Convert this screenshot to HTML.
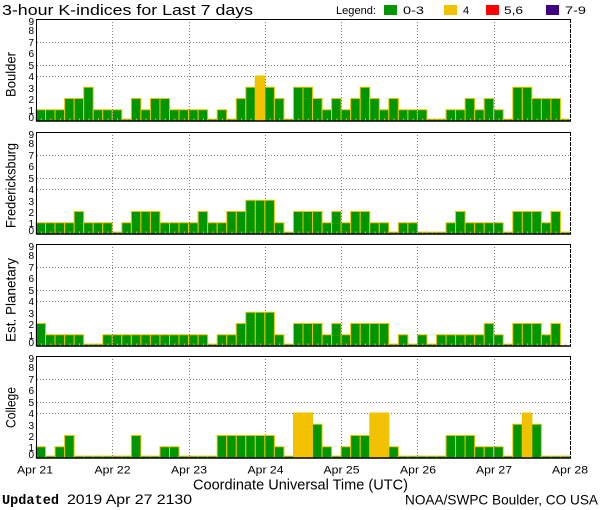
<!DOCTYPE html>
<html><head><meta charset="utf-8"><style>
html,body{margin:0;padding:0;background:#fff;}
svg{display:block;}
text{font-family:"Liberation Sans",sans-serif;fill:#000;}
.b rect{fill:#009600;stroke:#f2c200;stroke-width:1;vector-effect:non-scaling-stroke;}
.b rect.y{fill:#f2c200;}
.gr{stroke:#808080;stroke-width:1;stroke-dasharray:1 2;fill:none;}
.ax{stroke:#000;fill:none;}
.tk{font-size:10px;text-anchor:end;}
.yl{font-size:14px;text-anchor:middle;}
.xl{font-size:11px;text-anchor:middle;}
.lg{font-size:11px;}
.mt{stroke:#f2c200;stroke-width:2;stroke-dasharray:1 8.5357;}
</style></head><body>
<svg width="600" height="510" viewBox="0 0 600 510" xmlns="http://www.w3.org/2000/svg">
<rect width="600" height="510" fill="#fff"/>

<!-- Title & legend -->
<text x="2" y="15" font-size="15" textLength="251" lengthAdjust="spacingAndGlyphs">3-hour K-indices for Last 7 days</text>
<text class="lg" x="336" y="14" textLength="40" lengthAdjust="spacingAndGlyphs">Legend:</text>
<rect x="384" y="5" width="13" height="10" fill="#009600"/>
<text class="lg" x="403" y="14" textLength="21" lengthAdjust="spacingAndGlyphs">0-3</text>
<rect x="444" y="5" width="13" height="10" fill="#f2c200"/>
<text class="lg" x="463" y="14">4</text>
<rect x="486" y="5" width="13" height="10" fill="#ff0000"/>
<text class="lg" x="504" y="14" textLength="19" lengthAdjust="spacingAndGlyphs">5,6</text>
<rect x="546" y="5" width="13" height="10" fill="#400080"/>
<text class="lg" x="565" y="14" textLength="21" lengthAdjust="spacingAndGlyphs">7-9</text>

<!-- ============ Panel 1 : Boulder (T=19, base=121) ============ -->
<g class="gr">
<path d="M37 42.5H570M37 65.5H570M37 76.5H570"/>
<path d="M112.5 19V121M189.5 19V121M265.5 19V121M341.5 19V121M417.5 19V121M494.5 19V121"/>
</g>
<g class="b" transform="translate(36,121) scale(9.5357,-11.25)">
<rect x="0" width="1" height="1"/><rect x="1" width="1" height="1"/><rect x="2" width="1" height="1"/><rect x="3" width="1" height="2"/><rect x="4" width="1" height="2"/><rect x="5" width="1" height="3"/><rect x="6" width="1" height="1"/><rect x="7" width="1" height="1"/>
<rect x="8" width="1" height="1"/><rect x="9" width="1" height=".17"/><rect x="10" width="1" height="2"/><rect x="11" width="1" height="1"/><rect x="12" width="1" height="2"/><rect x="13" width="1" height="2"/><rect x="14" width="1" height="1"/><rect x="15" width="1" height="1"/>
<rect x="16" width="1" height="1"/><rect x="17" width="1" height="1"/><rect x="18" width="1" height=".17"/><rect x="19" width="1" height="1"/><rect x="20" width="1" height=".17"/><rect x="21" width="1" height="2"/><rect x="22" width="1" height="3"/><rect class="y" x="23" width="1" height="4"/>
<rect x="24" width="1" height="3"/><rect x="25" width="1" height="2"/><rect x="26" width="1" height=".17"/><rect x="27" width="1" height="3"/><rect x="28" width="1" height="3"/><rect x="29" width="1" height="2"/><rect x="30" width="1" height="1"/><rect x="31" width="1" height="2"/>
<rect x="32" width="1" height="1"/><rect x="33" width="1" height="2"/><rect x="34" width="1" height="3"/><rect x="35" width="1" height="2"/><rect x="36" width="1" height="1"/><rect x="37" width="1" height="2"/><rect x="38" width="1" height="1"/><rect x="39" width="1" height="1"/>
<rect x="40" width="1" height="1"/><rect x="41" width="1" height=".17"/><rect x="42" width="1" height=".17"/><rect x="43" width="1" height="1"/><rect x="44" width="1" height="1"/><rect x="45" width="1" height="2"/><rect x="46" width="1" height="1"/><rect x="47" width="1" height="2"/>
<rect x="48" width="1" height="1"/><rect x="49" width="1" height=".17"/><rect x="50" width="1" height="3"/><rect x="51" width="1" height="3"/><rect x="52" width="1" height="2"/><rect x="53" width="1" height="2"/><rect x="54" width="1" height="2"/><rect x="55" width="1" height=".17"/>
</g>
<g class="gr"><path d="M112.5 19V121M189.5 19V121M265.5 19V121M341.5 19V121M417.5 19V121M494.5 19V121"/></g>
<line class="mt" x1="40.8" y1="119.5" x2="570" y2="119.5"/>
<path class="ax" d="M36 19.5H570M36.5 19V121.5" stroke-width="1"/>
<path class="ax" d="M36 121H571" stroke-width="1.5"/>
<path class="ax" d="M570.5 19V121" stroke-dasharray="4 1"/>
<g class="tk">
<text x="34" y="25">9</text><text x="34" y="34">8</text><text x="34" y="46">7</text><text x="34" y="57">6</text><text x="34" y="69">5</text><text x="34" y="80">4</text><text x="34" y="92">3</text><text x="34" y="103">2</text><text x="34" y="114">1</text><text x="34" y="121">0</text>
</g>
<text class="yl" transform="translate(15.5,74.5) rotate(-90)" textLength="45" lengthAdjust="spacingAndGlyphs">Boulder</text>

<!-- ============ Panel 2 : Fredericksburg (T=132, base=234) ============ -->
<g class="gr">
<path d="M37 155.5H570M37 178.5H570M37 189.5H570"/>
</g>
<g class="b" transform="translate(36,234) scale(9.5357,-11.25)">
<rect x="0" width="1" height="1"/><rect x="1" width="1" height="1"/><rect x="2" width="1" height="1"/><rect x="3" width="1" height="1"/><rect x="4" width="1" height="2"/><rect x="5" width="1" height="1"/><rect x="6" width="1" height="1"/><rect x="7" width="1" height="1"/>
<rect x="8" width="1" height=".17"/><rect x="9" width="1" height="1"/><rect x="10" width="1" height="2"/><rect x="11" width="1" height="2"/><rect x="12" width="1" height="2"/><rect x="13" width="1" height="1"/><rect x="14" width="1" height="1"/><rect x="15" width="1" height="1"/>
<rect x="16" width="1" height="1"/><rect x="17" width="1" height="2"/><rect x="18" width="1" height="1"/><rect x="19" width="1" height="1"/><rect x="20" width="1" height="2"/><rect x="21" width="1" height="2"/><rect x="22" width="1" height="3"/><rect x="23" width="1" height="3"/>
<rect x="24" width="1" height="3"/><rect x="25" width="1" height="1"/><rect x="26" width="1" height=".17"/><rect x="27" width="1" height="2"/><rect x="28" width="1" height="2"/><rect x="29" width="1" height="2"/><rect x="30" width="1" height="1"/><rect x="31" width="1" height="2"/>
<rect x="32" width="1" height="1"/><rect x="33" width="1" height="2"/><rect x="34" width="1" height="2"/><rect x="35" width="1" height="1"/><rect x="36" width="1" height="1"/><rect x="37" width="1" height=".17"/><rect x="38" width="1" height="1"/><rect x="39" width="1" height="1"/>
<rect x="40" width="1" height=".17"/><rect x="41" width="1" height=".17"/><rect x="42" width="1" height=".17"/><rect x="43" width="1" height="1"/><rect x="44" width="1" height="2"/><rect x="45" width="1" height="1"/><rect x="46" width="1" height="1"/><rect x="47" width="1" height="1"/>
<rect x="48" width="1" height="1"/><rect x="49" width="1" height=".17"/><rect x="50" width="1" height="2"/><rect x="51" width="1" height="2"/><rect x="52" width="1" height="2"/><rect x="53" width="1" height="1"/><rect x="54" width="1" height="2"/><rect x="55" width="1" height=".17"/>
</g>
<g class="gr"><path d="M112.5 132V234M189.5 132V234M265.5 132V234M341.5 132V234M417.5 132V234M494.5 132V234"/></g>
<line class="mt" x1="40.8" y1="232.5" x2="570" y2="232.5"/>
<path class="ax" d="M36 132.5H570M36.5 132V234.5" stroke-width="1"/>
<path class="ax" d="M36 234H571" stroke-width="1.5"/>
<path class="ax" d="M570.5 132V234" stroke-dasharray="4 1"/>
<g class="tk">
<text x="34" y="138">9</text><text x="34" y="147">8</text><text x="34" y="159">7</text><text x="34" y="170">6</text><text x="34" y="182">5</text><text x="34" y="193">4</text><text x="34" y="205">3</text><text x="34" y="216">2</text><text x="34" y="227">1</text><text x="34" y="234">0</text>
</g>
<text class="yl" transform="translate(15.5,185.5) rotate(-90)" textLength="85" lengthAdjust="spacingAndGlyphs">Fredericksburg</text>

<!-- ============ Panel 3 : Est. Planetary (T=244, base=346) ============ -->
<g class="gr">
<path d="M37 267.5H570M37 290.5H570M37 301.5H570"/>
</g>
<g class="b" transform="translate(36,346) scale(9.5357,-11.25)">
<rect x="0" width="1" height="2"/><rect x="1" width="1" height="1"/><rect x="2" width="1" height="1"/><rect x="3" width="1" height="1"/><rect x="4" width="1" height="1"/><rect x="5" width="1" height=".17"/><rect x="6" width="1" height=".17"/><rect x="7" width="1" height="1"/>
<rect x="8" width="1" height="1"/><rect x="9" width="1" height="1"/><rect x="10" width="1" height="1"/><rect x="11" width="1" height="1"/><rect x="12" width="1" height="1"/><rect x="13" width="1" height="1"/><rect x="14" width="1" height="1"/><rect x="15" width="1" height="1"/>
<rect x="16" width="1" height="1"/><rect x="17" width="1" height="1"/><rect x="18" width="1" height=".17"/><rect x="19" width="1" height="1"/><rect x="20" width="1" height="1"/><rect x="21" width="1" height="2"/><rect x="22" width="1" height="3"/><rect x="23" width="1" height="3"/>
<rect x="24" width="1" height="3"/><rect x="25" width="1" height="1"/><rect x="26" width="1" height=".17"/><rect x="27" width="1" height="2"/><rect x="28" width="1" height="2"/><rect x="29" width="1" height="2"/><rect x="30" width="1" height="1"/><rect x="31" width="1" height="2"/>
<rect x="32" width="1" height="1"/><rect x="33" width="1" height="2"/><rect x="34" width="1" height="2"/><rect x="35" width="1" height="2"/><rect x="36" width="1" height="2"/><rect x="37" width="1" height=".17"/><rect x="38" width="1" height="1"/><rect x="39" width="1" height=".17"/>
<rect x="40" width="1" height="1"/><rect x="41" width="1" height=".17"/><rect x="42" width="1" height="1"/><rect x="43" width="1" height="1"/><rect x="44" width="1" height="1"/><rect x="45" width="1" height="1"/><rect x="46" width="1" height="1"/><rect x="47" width="1" height="2"/>
<rect x="48" width="1" height="1"/><rect x="49" width="1" height=".17"/><rect x="50" width="1" height="2"/><rect x="51" width="1" height="2"/><rect x="52" width="1" height="2"/><rect x="53" width="1" height="1"/><rect x="54" width="1" height="2"/>
</g>
<g class="gr"><path d="M112.5 244V346M189.5 244V346M265.5 244V346M341.5 244V346M417.5 244V346M494.5 244V346"/></g>
<line class="mt" x1="40.8" y1="344.5" x2="570" y2="344.5"/>
<path class="ax" d="M36 244.5H570M36.5 244V346.5" stroke-width="1"/>
<path class="ax" d="M36 346H571" stroke-width="1.5"/>
<path class="ax" d="M570.5 244V346" stroke-dasharray="4 1"/>
<g class="tk">
<text x="34" y="250">9</text><text x="34" y="259">8</text><text x="34" y="271">7</text><text x="34" y="282">6</text><text x="34" y="294">5</text><text x="34" y="305">4</text><text x="34" y="317">3</text><text x="34" y="328">2</text><text x="34" y="339">1</text><text x="34" y="346">0</text>
</g>
<text class="yl" transform="translate(15.5,300) rotate(-90)" textLength="84" lengthAdjust="spacingAndGlyphs">Est. Planetary</text>

<!-- ============ Panel 4 : College (T=356, base=458) ============ -->
<g class="gr">
<path d="M37 379.5H570M37 402.5H570M37 413.5H570"/>
</g>
<g class="b" transform="translate(36,458) scale(9.5357,-11.25)">
<rect x="0" width="1" height="1"/><rect x="1" width="1" height=".17"/><rect x="2" width="1" height="1"/><rect x="3" width="1" height="2"/><rect x="4" width="1" height=".17"/><rect x="5" width="1" height=".17"/><rect x="6" width="1" height=".17"/><rect x="7" width="1" height=".17"/>
<rect x="8" width="1" height=".17"/><rect x="9" width="1" height=".17"/><rect x="10" width="1" height="2"/><rect x="11" width="1" height=".17"/><rect x="12" width="1" height=".17"/><rect x="13" width="1" height="1"/><rect x="14" width="1" height="1"/><rect x="15" width="1" height=".17"/>
<rect x="16" width="1" height=".17"/><rect x="17" width="1" height=".17"/><rect x="18" width="1" height=".17"/><rect x="19" width="1" height="2"/><rect x="20" width="1" height="2"/><rect x="21" width="1" height="2"/><rect x="22" width="1" height="2"/><rect x="23" width="1" height="2"/>
<rect x="24" width="1" height="2"/><rect x="25" width="1" height="1"/><rect x="26" width="1" height=".17"/><rect class="y" x="27" width="1" height="4"/><rect class="y" x="28" width="1" height="4"/><rect x="29" width="1" height="3"/><rect x="30" width="1" height="1"/><rect x="31" width="1" height=".17"/>
<rect x="32" width="1" height="1"/><rect x="33" width="1" height="2"/><rect x="34" width="1" height="2"/><rect class="y" x="35" width="1" height="4"/><rect class="y" x="36" width="1" height="4"/><rect x="37" width="1" height="1"/><rect x="38" width="1" height=".17"/><rect x="39" width="1" height=".17"/>
<rect x="40" width="1" height=".17"/><rect x="41" width="1" height=".17"/><rect x="42" width="1" height=".17"/><rect x="43" width="1" height="2"/><rect x="44" width="1" height="2"/><rect x="45" width="1" height="2"/><rect x="46" width="1" height="1"/><rect x="47" width="1" height="1"/>
<rect x="48" width="1" height="1"/><rect x="49" width="1" height=".17"/><rect x="50" width="1" height="3"/><rect class="y" x="51" width="1" height="4"/><rect x="52" width="1" height="3"/><rect x="53" width="1" height=".17"/><rect x="54" width="1" height=".17"/><rect x="55" width="1" height=".17"/>
</g>
<g class="gr"><path d="M112.5 356V458M189.5 356V458M265.5 356V458M341.5 356V458M417.5 356V458M494.5 356V458"/></g>
<path class="ax" d="M36 356.5H570M36.5 356V458.5" stroke-width="1"/>
<path class="ax" d="M36 458H571" stroke-width="1.5"/>
<path class="ax" d="M570.5 356V458" stroke-dasharray="4 1"/>
<g class="tk">
<text x="34" y="362">9</text><text x="34" y="371">8</text><text x="34" y="383">7</text><text x="34" y="394">6</text><text x="34" y="406">5</text><text x="34" y="417">4</text><text x="34" y="429">3</text><text x="34" y="440">2</text><text x="34" y="451">1</text><text x="34" y="458">0</text>
</g>
<text class="yl" transform="translate(15.5,407.5) rotate(-90)" textLength="41" lengthAdjust="spacingAndGlyphs">College</text>

<!-- X axis labels -->
<g class="xl">
<text x="35" y="473.5" textLength="36" lengthAdjust="spacingAndGlyphs">Apr 21</text>
<text x="112.5" y="473.5" textLength="36" lengthAdjust="spacingAndGlyphs">Apr 22</text>
<text x="189" y="473.5" textLength="36" lengthAdjust="spacingAndGlyphs">Apr 23</text>
<text x="265.5" y="473.5" textLength="36" lengthAdjust="spacingAndGlyphs">Apr 24</text>
<text x="341.5" y="473.5" textLength="36" lengthAdjust="spacingAndGlyphs">Apr 25</text>
<text x="418" y="473.5" textLength="36" lengthAdjust="spacingAndGlyphs">Apr 26</text>
<text x="494" y="473.5" textLength="36" lengthAdjust="spacingAndGlyphs">Apr 27</text>
<text x="570" y="473.5" textLength="36" lengthAdjust="spacingAndGlyphs">Apr 28</text>
</g>
<text x="300.5" y="489.5" font-size="14.5" text-anchor="middle" textLength="215" lengthAdjust="spacingAndGlyphs">Coordinate Universal Time (UTC)</text>

<!-- Footer -->
<text x="2" y="504" font-size="14" font-weight="bold" style="font-family:'Liberation Mono',monospace" textLength="57" lengthAdjust="spacingAndGlyphs">Updated</text>
<text x="67" y="504" font-size="14" textLength="125" lengthAdjust="spacingAndGlyphs">2019 Apr 27 2130</text>
<text x="405" y="504.5" font-size="14" textLength="193" lengthAdjust="spacingAndGlyphs">NOAA/SWPC Boulder, CO USA</text>
</svg>
</body></html>
